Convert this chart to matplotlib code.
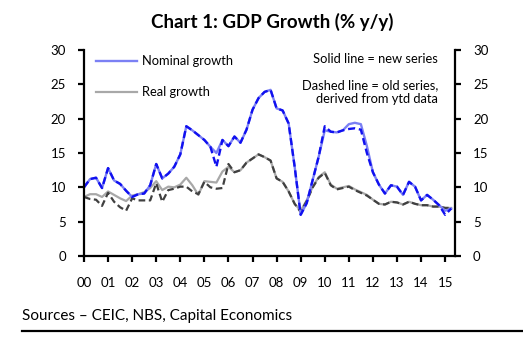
import numpy as np
import matplotlib
matplotlib.use("Agg")
import matplotlib.pyplot as plt

# quarterly data, 2000Q1 .. 2015Q2
quarters = np.arange(2000, 2015.5, 0.25)

nominal_old = [10.0, 11.2, 11.4, 9.9, 12.8, 11.0, 10.5, 9.5, 8.6, 9.0, 9.1, 10.3,
               13.4, 11.3, 12.0, 13.0, 14.8, 18.9, 18.3, 17.6, 16.9, 15.9, 13.0, 16.9,
               16.0, 17.4, 16.5, 18.4, 21.3, 23.0, 23.9, 24.2, 21.5, 21.2, 19.3, 13.0,
               6.0, 7.7, 11.1, 14.5, 18.9, 18.1, 18.0, 18.3, 18.5, 18.6, 18.4, 15.0,
               12.2, 10.4, 9.1, 10.3, 10.1, 8.9, 10.8, 10.1, 8.1, 8.9, 8.2, 7.4, 6.0, 6.9]
nominal_new = [10.0, 11.2, 11.4, 9.9, 12.8, 11.0, 10.5, 9.5, 8.6, 9.0, 9.1, 10.3,
               13.4, 11.3, 12.0, 13.0, 14.8, 18.9, 18.3, 17.6, 16.9, 15.9, 15.0, 16.9,
               16.0, 17.4, 16.5, 18.4, 21.3, 23.0, 23.9, 24.2, 21.5, 21.2, 19.3, 13.0,
               6.0, 7.7, 11.1, 14.5, 18.3, 18.1, 18.0, 18.3, 19.2, 19.4, 19.2, 16.0,
               12.2, 10.4, 9.1, 10.3, 10.1, 8.9, 10.8, 10.1, 8.1, 8.9, 8.2, 7.4, 6.6, 6.9]
real_old = [8.6, 8.3, 8.2, 7.3, 9.2, 7.9, 7.1, 6.6, 8.4, 8.1, 8.1, 8.1,
            10.6, 7.9, 9.6, 9.8, 10.1, 10.1, 9.4, 9.0, 10.8, 10.0, 9.8, 9.9,
            13.4, 12.2, 12.5, 13.6, 14.2, 14.8, 14.4, 13.9, 11.3, 10.8, 9.4, 7.6,
            6.4, 8.0, 10.0, 11.4, 12.1, 10.3, 9.7, 9.9, 10.1, 9.6, 9.2, 8.8,
            8.2, 7.6, 7.5, 7.9, 7.8, 7.5, 7.9, 7.6, 7.4, 7.4, 7.2, 7.2, 7.0, 7.0]
real_new = [8.6, 9.0, 9.0, 8.6, 9.4, 8.9, 8.4, 8.0, 8.8, 9.0, 9.3, 9.9,
            10.9, 9.6, 10.1, 10.0, 10.4, 11.4, 10.3, 8.9, 10.9, 10.8, 10.7, 12.3,
            13.0, 12.2, 12.5, 13.6, 14.2, 14.8, 14.4, 13.9, 11.3, 10.8, 9.4, 7.6,
            6.6, 8.1, 10.1, 11.5, 12.2, 10.4, 9.8, 10.0, 10.2, 9.7, 9.3, 8.9,
            8.2, 7.6, 7.5, 7.9, 7.8, 7.5, 7.9, 7.6, 7.4, 7.4, 7.2, 7.2, 7.0, 7.0]

year_ticks = list(range(2000, 2016))
year_labels = ["%02d" % (y % 100) for y in year_ticks]

plt.rcParams['font.family'] = ['Lato', 'DejaVu Sans']

fig = plt.figure(figsize=(5.23, 3.38), dpi=100)
ax = fig.add_axes([0.1606, 0.2426, 0.7094, 0.6094])

dash = (0, (3, 1.6))
ax.plot(quarters, real_new, color='#a8a8a8', lw=1.6, label='Real growth')
ax.plot(quarters, real_old, color='#404040', lw=1.6, ls=dash)
ax.plot(quarters, nominal_new, color='#7b80f4', lw=1.7, label='Nominal growth')
ax.plot(quarters, nominal_old, color='#1010f0', lw=1.7, ls=dash)

ax.set_xlim(2000, 2015.41)
ax.set_ylim(0, 30)
ax.set_yticks(range(0, 31, 5))
ax.set_xticks(year_ticks)
ax.set_xticklabels(year_labels)

ax.spines['top'].set_visible(False)
for s in ['left', 'right', 'bottom']:
    ax.spines[s].set_linewidth(1.6)
ax.tick_params(axis='y', which='both', left=True, right=True, labelleft=True,
               labelright=True, direction='out', length=4, width=1.6, pad=9,
               labelsize=9.5)
ax.tick_params(axis='x', direction='out', length=4, width=1.6, pad=11, labelsize=9.5)

handles, labels = ax.get_legend_handles_labels()
ax.legend(handles[::-1], labels[::-1], loc='upper left', bbox_to_anchor=(0.0, 1.03),
          frameon=False, fontsize=9.3, handlelength=3.2, handletextpad=0.4,
          labelspacing=1.45)

ax.text(0.955, 0.955, 'Solid line = new series', transform=ax.transAxes,
        ha='right', va='center', fontsize=9.3)
ax.text(0.955, 0.797, 'Dashed line = old series,\nderived from ytd data',
        transform=ax.transAxes, ha='right', va='center', fontsize=9.3,
        linespacing=1.15)

fig.text(0.52, 0.935, 'Chart 1: GDP Growth (% y/y)', ha='center', va='center',
         fontsize=13.5, fontweight='bold')
fig.text(0.042, 0.064, 'Sources \u2013 CEIC, NBS, Capital Economics', ha='left',
         va='center', fontsize=11)
fig.add_artist(plt.Line2D([0.042, 1.0], [0.02, 0.02], color='black', lw=1.6,
                          transform=fig.transFigure))

fig.savefig('out.png', dpi=100)
